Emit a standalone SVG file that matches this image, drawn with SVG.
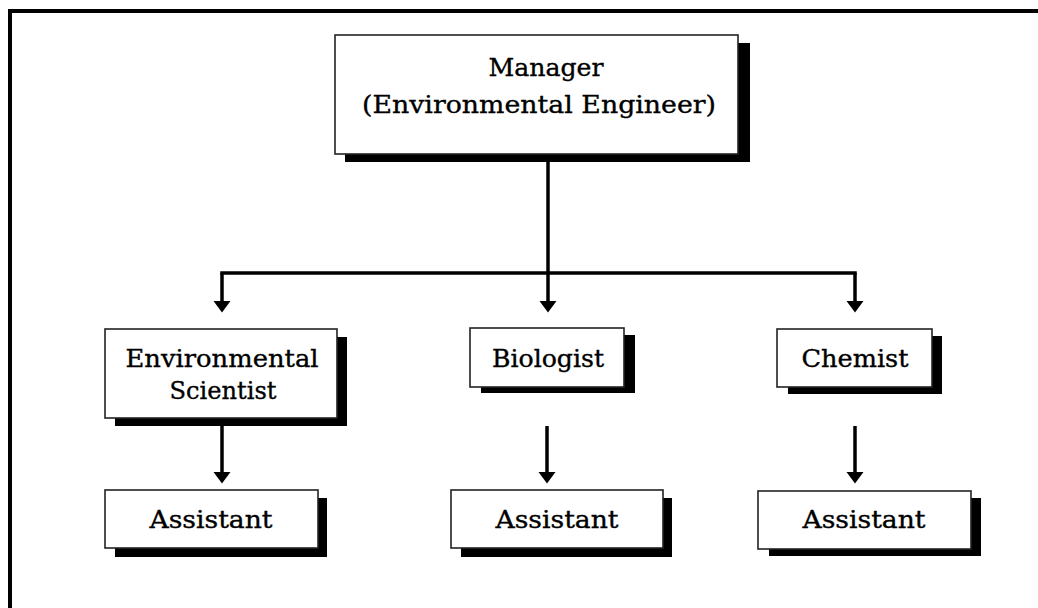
<svg xmlns="http://www.w3.org/2000/svg" width="1038" height="608" viewBox="0 0 1038 608">
  <style>
    .box { fill: #ffffff; stroke: #222222; stroke-width: 1.6; }
    .shadow { fill: #000000; }
    .label { font-family: "DejaVu Serif", "Liberation Serif", serif; font-size: 24px; fill: #000000; stroke: #000000; stroke-width: 0.35; text-anchor: middle; }
    .wire { fill: none; stroke: #000000; stroke-width: 3.5; }
    .frame { fill: none; stroke: #000000; stroke-width: 4; }
  </style>

  <rect width="1038" height="608" fill="#ffffff"/>
  <!-- outer frame, running past the right and bottom edges -->
  <rect class="frame" x="10" y="11" width="1040" height="610"/>

  <!-- connectors: trunk, bus, drops and their arrowheads -->
  <g id="connectors">
    <line class="wire" x1="548" y1="154" x2="548" y2="273"/>
    <line class="wire" x1="220.25" y1="273" x2="856.75" y2="273"/>
    <path class="wire" d="M222,273 V302"/>
    <path class="wire" d="M548,273 V302"/>
    <path class="wire" d="M855,273 V302"/>
    <path d="M213.5,301 L230.5,301 L222,312.5 Z"/>
    <path d="M539.5,301 L556.5,301 L548,312.5 Z"/>
    <path d="M846.5,301 L863.5,301 L855,312.5 Z"/>
    <path class="wire" d="M222,418 V473"/>
    <path class="wire" d="M547,426 V473"/>
    <path class="wire" d="M855,426 V473"/>
    <path d="M213.5,472 L230.5,472 L222,483.5 Z"/>
    <path d="M538.5,472 L555.5,472 L547,483.5 Z"/>
    <path d="M846.5,472 L863.5,472 L855,483.5 Z"/>
  </g>

  <g id="manager">
    <rect class="shadow" x="345" y="43" width="405" height="119"/>
    <rect class="box" x="335" y="35" width="403" height="119"/>
    <text class="label" x="546" y="76" textLength="115" lengthAdjust="spacingAndGlyphs">Manager</text>
    <text class="label" x="539" y="113" textLength="354" lengthAdjust="spacingAndGlyphs">(Environmental Engineer)</text>
  </g>

  <g id="env-scientist">
    <rect class="shadow" x="115" y="337" width="232" height="89"/>
    <rect class="box" x="105" y="329" width="232" height="89"/>
    <text class="label" x="222" y="367" textLength="193" lengthAdjust="spacingAndGlyphs">Environmental</text>
    <text class="label" x="223" y="399" textLength="107" lengthAdjust="spacingAndGlyphs">Scientist</text>
  </g>

  <g id="biologist">
    <rect class="shadow" x="481" y="335" width="154" height="58"/>
    <rect class="box" x="470" y="328" width="154" height="59"/>
    <text class="label" x="548" y="367" textLength="112" lengthAdjust="spacingAndGlyphs">Biologist</text>
  </g>

  <g id="chemist">
    <rect class="shadow" x="788" y="336" width="154" height="58"/>
    <rect class="box" x="777" y="329" width="155" height="58"/>
    <text class="label" x="855" y="367" textLength="107" lengthAdjust="spacingAndGlyphs">Chemist</text>
  </g>

  <g id="env-assistant">
    <rect class="shadow" x="115" y="498" width="212" height="59"/>
    <rect class="box" x="105" y="490" width="213" height="58"/>
    <text class="label" x="211" y="528" textLength="123" lengthAdjust="spacingAndGlyphs">Assistant</text>
  </g>

  <g id="bio-assistant">
    <rect class="shadow" x="461" y="498" width="211" height="59"/>
    <rect class="box" x="451" y="490" width="212" height="58"/>
    <text class="label" x="557" y="528" textLength="123" lengthAdjust="spacingAndGlyphs">Assistant</text>
  </g>

  <g id="chem-assistant">
    <rect class="shadow" x="769" y="498" width="212" height="58"/>
    <rect class="box" x="758" y="491" width="213" height="58"/>
    <text class="label" x="864" y="528" textLength="123" lengthAdjust="spacingAndGlyphs">Assistant</text>
  </g>
</svg>
